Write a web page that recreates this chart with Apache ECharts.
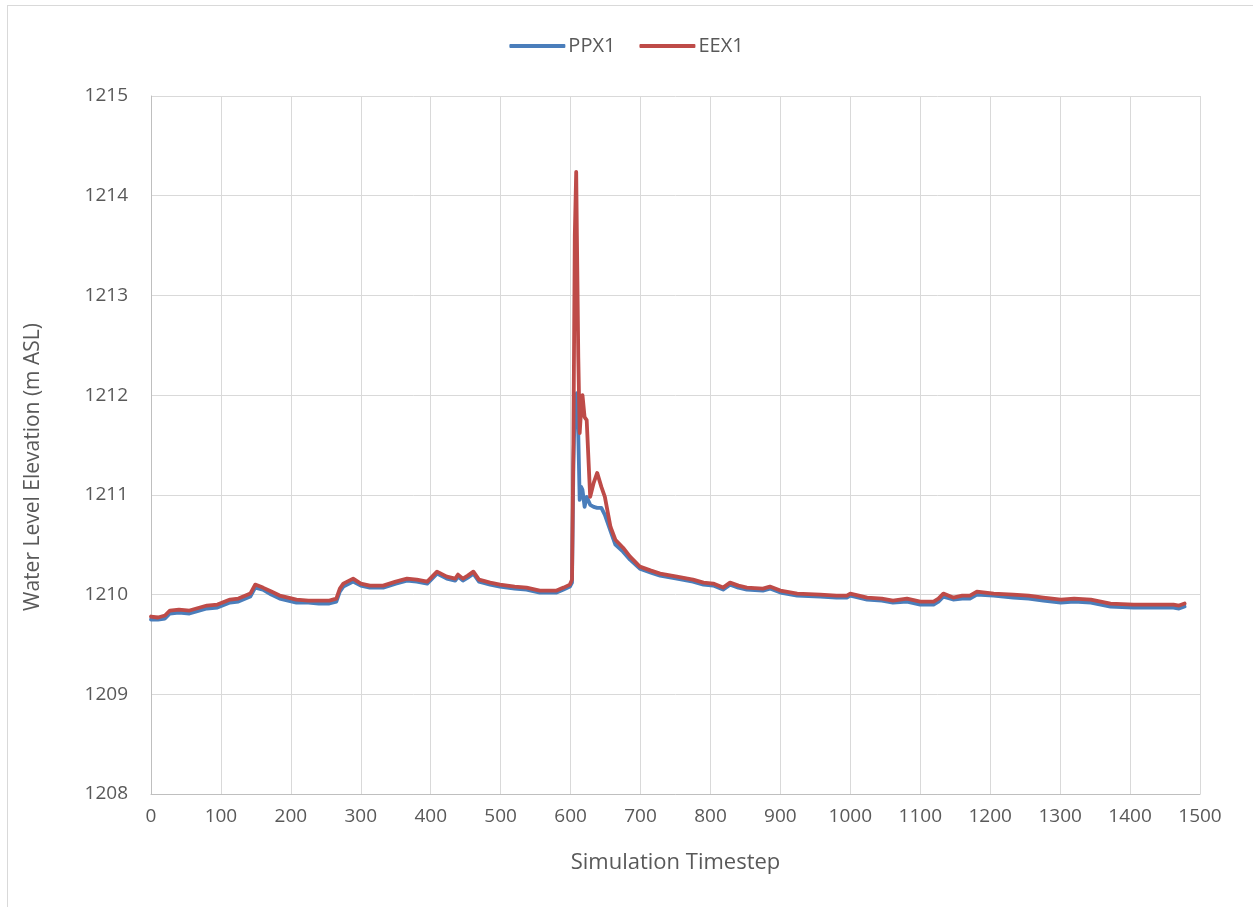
<!DOCTYPE html>
<html>
<head>
<meta charset="utf-8">
<script src="https://cdn.jsdelivr.net/npm/echarts@6/dist/echarts.min.js"></script>
<style>
html,body{margin:0;padding:0;background:#fff;}
#frame{position:absolute;left:7px;top:5px;width:1300px;height:1000px;border:1px solid #d9d9d9;}
#chart{position:absolute;left:0;top:0;width:1253px;height:907px;}
</style>
</head>
<body>
<div id="frame"></div>
<div id="chart"></div>
<script>
const timesteps = [0, 10, 20, 27, 40, 55, 70, 80, 95, 113,
  125, 142, 149, 160, 172, 184, 196, 208, 225, 240,
  255, 265, 270, 275, 289, 300, 313, 332, 350, 366,
  380, 395, 409, 423, 435, 439, 446, 453, 461, 469,
  485, 499, 520, 537, 556, 580, 590, 599, 602, 604,
  606, 608, 609, 611, 613, 615, 617, 620, 623, 628,
  633, 638, 644, 649, 657, 664, 675, 685, 699, 715,
  728, 752, 775, 790, 804, 818, 828, 840, 852, 875,
  885, 900, 924, 957, 980, 995, 1000, 1024, 1045, 1061,
  1081, 1100, 1119, 1126, 1133, 1147, 1160, 1171, 1181, 1205,
  1233, 1255, 1276, 1301, 1320, 1344, 1372, 1405, 1430, 1462,
  1470, 1478];

const eex1 = [1209.78, 1209.77, 1209.79, 1209.84, 1209.85, 1209.84, 1209.87, 1209.89, 1209.90, 1209.95,
  1209.96, 1210.01, 1210.10, 1210.07, 1210.03, 1209.99, 1209.97, 1209.95, 1209.94, 1209.94,
  1209.94, 1209.96, 1210.06, 1210.11, 1210.16, 1210.11, 1210.09, 1210.09, 1210.13, 1210.16,
  1210.15, 1210.13, 1210.23, 1210.18, 1210.16, 1210.20, 1210.16, 1210.19, 1210.23, 1210.15,
  1210.12, 1210.10, 1210.08, 1210.07, 1210.04, 1210.04, 1210.07, 1210.10, 1210.15, 1211.50,
  1213.60, 1214.24, 1213.60, 1212.38, 1211.62, 1211.85, 1212.00, 1211.78, 1211.75, 1210.98,
  1211.12, 1211.22, 1211.08, 1210.98, 1210.68, 1210.55, 1210.47, 1210.38, 1210.28, 1210.24,
  1210.21, 1210.18, 1210.15, 1210.12, 1210.11, 1210.07, 1210.12, 1210.09, 1210.07, 1210.06,
  1210.08, 1210.04, 1210.01, 1210.00, 1209.99, 1209.99, 1210.01, 1209.97, 1209.96, 1209.94,
  1209.96, 1209.93, 1209.93, 1209.96, 1210.01, 1209.97, 1209.99, 1209.99, 1210.03, 1210.01,
  1210.00, 1209.99, 1209.97, 1209.95, 1209.96, 1209.95, 1209.91, 1209.90, 1209.90, 1209.90,
  1209.89, 1209.91];

const ppx1 = [1209.75, 1209.75, 1209.76, 1209.81, 1209.82, 1209.81, 1209.84, 1209.86, 1209.87, 1209.92,
  1209.93, 1209.98, 1210.07, 1210.05, 1210.00, 1209.96, 1209.94, 1209.92, 1209.92, 1209.91,
  1209.91, 1209.93, 1210.03, 1210.08, 1210.13, 1210.09, 1210.07, 1210.07, 1210.11, 1210.14,
  1210.13, 1210.11, 1210.21, 1210.16, 1210.14, 1210.18, 1210.14, 1210.17, 1210.21, 1210.13,
  1210.10, 1210.08, 1210.06, 1210.05, 1210.02, 1210.02, 1210.05, 1210.08, 1210.12, 1211.30,
  1211.90, 1211.95, 1212.02, 1211.60, 1210.95, 1211.08, 1211.05, 1210.88, 1210.98, 1210.90,
  1210.88, 1210.87, 1210.87, 1210.80, 1210.64, 1210.50, 1210.43, 1210.35, 1210.26, 1210.22,
  1210.19, 1210.16, 1210.13, 1210.10, 1210.09, 1210.05, 1210.10, 1210.07, 1210.05, 1210.04,
  1210.06, 1210.02, 1209.99, 1209.98, 1209.97, 1209.97, 1209.99, 1209.95, 1209.94, 1209.92,
  1209.93, 1209.90, 1209.90, 1209.93, 1209.98, 1209.95, 1209.96, 1209.96, 1210.00, 1209.99,
  1209.97, 1209.96, 1209.94, 1209.92, 1209.93, 1209.92, 1209.88, 1209.87, 1209.87, 1209.87,
  1209.86, 1209.88];

const seriesNames = ['PPX1', 'EEX1'];
const xTitle = 'Simulation Timestep';
const yTitle = 'Water Level Elevation (m ASL)';

const pair = (xs, ys) => xs.map((x, i) => [x, ys[i]]);
const font = '"Open Sans", "Liberation Sans", sans-serif';
const txt = '#595959';

const chart = echarts.init(document.getElementById('chart'), null, {renderer: 'canvas'});
chart.setOption({
  animation: false,
  backgroundColor: 'transparent',
  textStyle: {fontFamily: font},
  legend: {
    top: 31, left: 'center',
    itemWidth: 56, itemHeight: 4, itemGap: 24,
    icon: 'roundRect',
    textStyle: {color: txt, fontSize: 20, fontFamily: font, padding: [0, 0, 0, -2]},
    data: seriesNames
  },
  grid: {left: 151, right: 53, top: 96, bottom: 113, containLabel: false},
  xAxis: {
    type: 'value', min: 0, max: 1500, interval: 100,
    name: xTitle, nameLocation: 'middle', nameGap: 58,
    nameTextStyle: {color: txt, fontSize: 22, fontFamily: font},
    axisLine: {show: true, lineStyle: {color: '#bfbfbf', width: 1}},
    axisTick: {show: false},
    axisLabel: {color: txt, fontSize: 19, margin: 13, fontFamily: font, formatter: v => String(v)},
    splitLine: {show: true, lineStyle: {color: '#d9d9d9', width: 1}}
  },
  yAxis: {
    type: 'value', min: 1208, max: 1215, interval: 1,
    name: yTitle, nameLocation: 'middle', nameGap: 107, nameRotate: 90,
    nameTextStyle: {color: txt, fontSize: 21, fontFamily: font, padding: [0, 44, 0, 0]},
    axisLine: {show: true, lineStyle: {color: '#bfbfbf', width: 1}},
    axisTick: {show: false},
    axisLabel: {color: txt, fontSize: 19, margin: 23, fontFamily: font, formatter: v => String(v)},
    splitLine: {show: true, lineStyle: {color: '#d9d9d9', width: 1}}
  },
  series: [
    {name: seriesNames[0], type: 'line', data: pair(timesteps, ppx1), showSymbol: false,
     lineStyle: {color: '#4a7ebb', width: 3.8, join: 'round', cap: 'round'}, itemStyle: {color: '#4a7ebb'}, z: 2},
    {name: seriesNames[1], type: 'line', data: pair(timesteps, eex1), showSymbol: false,
     lineStyle: {color: '#be4b48', width: 3.8, join: 'round', cap: 'round'}, itemStyle: {color: '#be4b48'}, z: 3}
  ]
});
</script>
</body>
</html>
